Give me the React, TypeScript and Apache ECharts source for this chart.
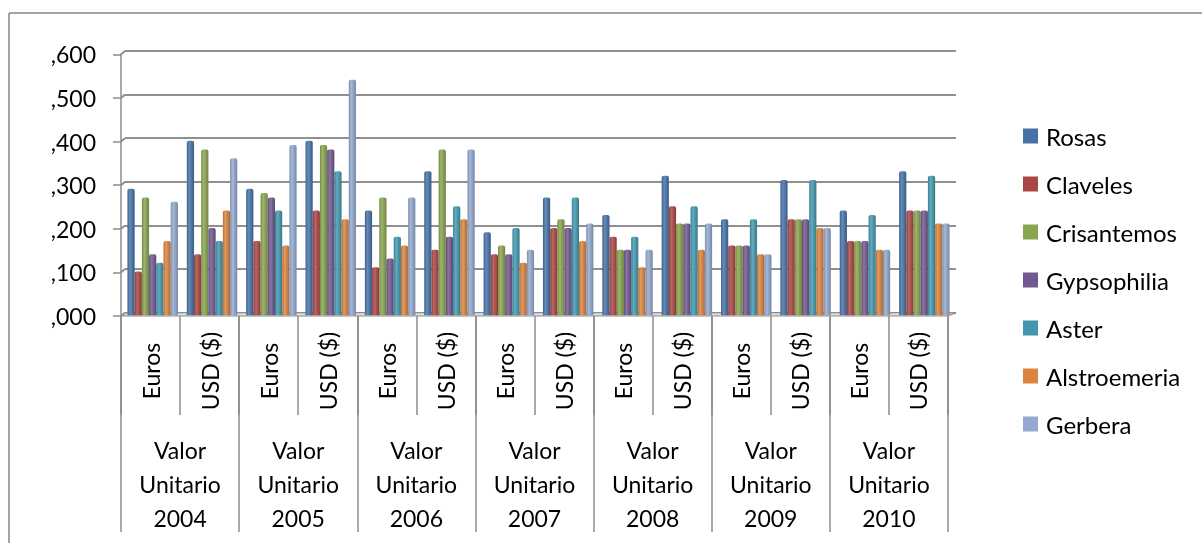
import React, { useEffect, useRef } from "react";
import * as echarts from "echarts";

// Years and currency sub-categories along the x axis
const years = ["2004", "2005", "2006", "2007", "2008", "2009", "2010"];
const currencies = ["Euros", "USD ($)"];

// Unit value per flower, Euros / USD for each year
const rosas = [0.29, 0.4, 0.29, 0.4, 0.24, 0.33, 0.19, 0.27, 0.23, 0.32, 0.22, 0.31, 0.24, 0.33];
const claveles = [0.1, 0.14, 0.17, 0.24, 0.11, 0.15, 0.14, 0.2, 0.18, 0.25, 0.16, 0.22, 0.17, 0.24];
const crisantemos = [0.27, 0.38, 0.28, 0.39, 0.27, 0.38, 0.16, 0.22, 0.15, 0.21, 0.16, 0.22, 0.17, 0.24];
const gypsophilia = [0.14, 0.2, 0.27, 0.38, 0.13, 0.18, 0.14, 0.2, 0.15, 0.21, 0.16, 0.22, 0.17, 0.24];
const aster = [0.12, 0.17, 0.24, 0.33, 0.18, 0.25, 0.2, 0.27, 0.18, 0.25, 0.22, 0.31, 0.23, 0.32];
const alstroemeria = [0.17, 0.24, 0.16, 0.22, 0.16, 0.22, 0.12, 0.17, 0.11, 0.15, 0.14, 0.2, 0.15, 0.21];
const gerbera = [0.26, 0.36, 0.39, 0.54, 0.27, 0.38, 0.15, 0.21, 0.15, 0.21, 0.14, 0.2, 0.15, 0.21];

const seriesNames = ["Rosas", "Claveles", "Crisantemos", "Gypsophilia", "Aster", "Alstroemeria", "Gerbera"];
const seriesData = [rosas, claveles, crisantemos, gypsophilia, aster, alstroemeria, gerbera];
const seriesColors = ["#4572A7", "#AA4643", "#89A54E", "#71588F", "#4198AF", "#DB843D", "#93A9CF"];

const FONT = "Lato";

function mix(hex: string, target: number, t: number): string {
  const n = parseInt(hex.slice(1), 16);
  const ch = [(n >> 16) & 255, (n >> 8) & 255, n & 255].map((c) => Math.round(c + (target - c) * t));
  return "rgb(" + ch.join(",") + ")";
}

// Layout of the pseudo-3D plot: front face (axes), back wall (gridlines)
const FRONT_L = 121;
const FRONT_R = 948;
const FRONT_TOP = 54.3;
const FRONT_BOT = 316;
const DX = 4;
const DY = 3.3;
const BACK_R = 956;

export default function App() {
  const ref = useRef<HTMLDivElement>(null);

  useEffect(() => {
    document.body.style.margin = "0";
    const chart = echarts.init(ref.current!, null, { renderer: "svg" });
    const categories: string[] = [];
    years.forEach(() => currencies.forEach((c) => categories.push(c)));
    const groupLabels = years.map((y) => "Valor\nUnitario\n" + y);

    const plotH = FRONT_BOT - FRONT_TOP;
    const frontW = FRONT_R - FRONT_L;

    const step = plotH / 6;
    const caps: any[] = [];
    for (let i = 0; i <= 6; i++) {
      caps.push({
        type: "line",
        shape: { x1: FRONT_L, y1: FRONT_BOT - i * step, x2: FRONT_L + DX, y2: FRONT_BOT - DY - i * step },
        style: { stroke: "#8f8f8f", lineWidth: 2 },
        z: 5,
      });
    }

    const option: any = {
      animation: false,
      textStyle: { fontFamily: FONT },
      grid: [
        // axes grid (front face)
        { left: FRONT_L, top: FRONT_TOP, width: frontW, height: plotH },
        // back wall gridlines
        { left: FRONT_L + DX, top: FRONT_TOP - DY, width: BACK_R - FRONT_L - DX, height: plotH },
        // bars
        { left: FRONT_L + 2, top: FRONT_TOP - 0.8, width: frontW + 4, height: plotH },
        // group labels
        { left: FRONT_L, top: FRONT_TOP, width: frontW, height: plotH },
      ],
      xAxis: [
        {
          gridIndex: 0,
          type: "category",
          data: categories,
          axisLine: { show: false },
          axisTick: { show: true, length: 99, lineStyle: { color: "#8c8c8c", width: 1.5 } },
          axisLabel: {
            rotate: 90,
            align: "center",
            verticalAlign: "middle",
            margin: 55,
            color: "#000",
            fontSize: 23,
            fontFamily: FONT,
            interval: 0,
          },
        },
        { gridIndex: 1, type: "category", data: categories, show: false },
        { gridIndex: 2, type: "category", data: categories, show: false },
        {
          gridIndex: 3,
          type: "category",
          data: groupLabels,
          axisLine: { show: false },
          axisTick: { show: true, length: 216, lineStyle: { color: "#8c8c8c", width: 1.5 } },
          axisLabel: {
            margin: 117,
            color: "#000",
            fontSize: 23,
            lineHeight: 34,
            fontFamily: FONT,
            interval: 0,
            align: "center",
          },
        },
      ],
      yAxis: [
        {
          gridIndex: 0,
          type: "value",
          min: 0,
          max: 0.6,
          interval: 0.1,
          axisLine: { show: true, lineStyle: { color: "#8c8c8c", width: 1.5 } },
          axisTick: { show: true, length: 8, lineStyle: { color: "#8c8c8c", width: 1.5 } },
          splitLine: { show: false },
          axisLabel: {
            margin: 25,
            color: "#000",
            fontSize: 23,
            fontFamily: FONT,
            formatter: (v: number) => v.toFixed(3).replace(/^0\./, ","),
          },
        },
        {
          gridIndex: 1,
          type: "value",
          min: 0,
          max: 0.6,
          interval: 0.1,
          axisLine: { show: false },
          axisTick: { show: false },
          axisLabel: { show: false },
          splitLine: { show: true, lineStyle: { color: "#8f8f8f", width: 2 } },
        },
        { gridIndex: 2, type: "value", min: 0, max: 0.6, interval: 0.1, show: false, splitLine: { show: false } },
        { gridIndex: 3, type: "value", min: 0, max: 0.6, interval: 0.1, show: false, splitLine: { show: false } },
      ],
      legend: {
        orient: "vertical",
        left: 1023,
        top: 124,
        padding: 0,
        itemWidth: 15,
        itemHeight: 15,
        itemGap: 24,
        icon: "rect",
        textStyle: { fontSize: 24, color: "#000", fontFamily: FONT, padding: [0, 0, 0, 3] },
        data: seriesNames.map((n, i) => ({ name: n, itemStyle: { color: seriesColors[i] } })),
      },
      graphic: [
        // outer chart border
        { type: "line", shape: { x1: 9, y1: 13, x2: 1202, y2: 13 }, style: { stroke: "#868686", lineWidth: 1.5 } },
        { type: "line", shape: { x1: 9, y1: 13, x2: 9, y2: 543 }, style: { stroke: "#868686", lineWidth: 1.5 } },
        // floor slab
        {
          type: "polygon",
          shape: {
            points: [
              [FRONT_L, FRONT_BOT],
              [FRONT_R, FRONT_BOT],
              [BACK_R, FRONT_BOT - DY],
              [FRONT_L + DX, FRONT_BOT - DY],
            ],
          },
          style: { fill: "#dcdcdc", stroke: "#8c8c8c", lineWidth: 1.2 },
          z: 4,
        },
        ...caps,
      ],
      series: seriesNames.map((name, i) => {
        const base = seriesColors[i];
        return {
          name,
          type: "bar",
          xAxisIndex: 2,
          yAxisIndex: 2,
          data: seriesData[i],
          barGap: "0%",
          barCategoryGap: "15%",
          z: 10,
          itemStyle: {
            borderRadius: [2, 2, 0, 0],
            color: new echarts.graphic.LinearGradient(0, 0, 1, 0, [
              { offset: 0, color: mix(base, 0, 0.15) },
              { offset: 0.35, color: mix(base, 255, 0.18) },
              { offset: 1, color: mix(base, 0, 0.2) },
            ]),
          },
        };
      }),
    };

    chart.setOption(option);
    return () => chart.dispose();
  }, []);

  return <div ref={ref} style={{ position: "fixed", left: 0, top: 0, width: 1202, height: 543 }} />;
}
